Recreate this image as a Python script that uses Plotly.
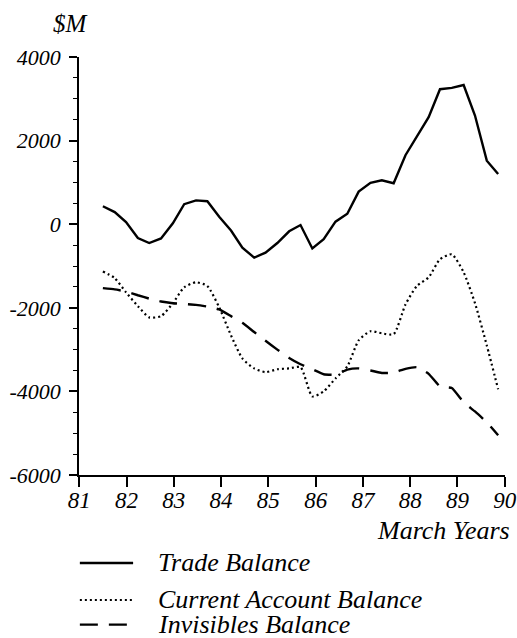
import plotly.graph_objects as go

# quarterly points, in decimal March years
years = [81.50, 81.75, 81.99, 82.24, 82.48, 82.73, 82.98, 83.22, 83.47, 83.71,
         83.96, 84.21, 84.45, 84.70, 84.94, 85.19, 85.44, 85.68, 85.93, 86.17,
         86.42, 86.67, 86.91, 87.16, 87.40, 87.65, 87.90, 88.14, 88.39, 88.63,
         88.88, 89.13, 89.37, 89.62, 89.86]

trade = [430, 290, 50, -330, -450, -340, 20, 480, 570, 550,
         180, -150, -560, -800, -680, -450, -170, -20, -580, -360,
         60, 250, 780, 990, 1050, 980, 1650, 2080, 2560, 3230,
         3260, 3330, 2600, 1520, 1200]

current = [-1130, -1290, -1630, -1960, -2230, -2200, -1890, -1510, -1390, -1480,
           -1990, -2660, -3210, -3450, -3540, -3470, -3450, -3420, -4120, -4000,
           -3690, -3400, -2780, -2560, -2610, -2630, -1920, -1480, -1270, -840,
           -720, -1150, -1890, -2900, -3950]

invisibles = [-1530, -1560, -1610, -1700, -1780, -1850, -1890, -1910, -1930, -1970,
              -2040, -2200, -2360, -2580, -2790, -3000, -3200, -3350, -3470, -3590,
              -3600, -3480, -3450, -3500, -3560, -3550, -3460, -3420, -3580, -3880,
              -3920, -4260, -4480, -4740, -5050]

x_ticks = [81, 82, 83, 84, 85, 86, 87, 88, 89, 90]
y_ticks = [4000, 2000, 0, -2000, -4000, -6000]
y_labels = ["4000", "2000", "0", "-2000", "-4000", "-6000"]

series = [
    ("Trade Balance", trade, dict(color="black", width=2.4, dash="solid", shape="linear")),
    ("Current Account Balance", current, dict(color="black", width=2.2, dash="2px,3px",
                                              shape="spline", smoothing=0.6)),
    ("Invisibles Balance", invisibles, dict(color="black", width=2.4, dash="18px,11px",
                                            shape="spline", smoothing=0.4)),
]

serif = "Liberation Serif, Times New Roman, serif"

fig = go.Figure()
for name, vals, line in series:
    fig.add_trace(go.Scatter(x=years, y=vals, mode="lines", name=name,
                             line=line, showlegend=False))

fig.update_layout(
    width=517, height=638,
    margin=dict(l=79, r=12, t=57, b=163),
    paper_bgcolor="white", plot_bgcolor="white",
    font=dict(family=serif, color="black", style="italic"),
    xaxis=dict(range=[80.995, 90.005], tickvals=x_ticks, ticks="outside", ticklen=10,
               tickwidth=1.5, tickcolor="black", showline=True, linecolor="black",
               linewidth=1.6, showgrid=False, zeroline=False, automargin=False,
               ticklabeloverflow="allow", ticklabelstandoff=-6,
               tickfont=dict(size=23, family=serif, style="italic")),
    yaxis=dict(range=[-6000, 4000], tickvals=y_ticks, ticktext=y_labels,
               ticks="outside", ticklen=8, tickwidth=1.5, tickcolor="black",
               showline=True, linecolor="black", linewidth=1.6, showgrid=False,
               zeroline=False, ticklabelstandoff=4, automargin=False,
               ticklabeloverflow="allow",
               tickfont=dict(size=22, family=serif, style="italic"),
               minor=dict(dtick=500, ticks="outside", ticklen=4, tickcolor="black",
                          tickwidth=1.2)),
)

fig.add_annotation(text="$M", xref="paper", yref="paper", x=-0.019, y=1.081,
                   xanchor="center", yanchor="middle", showarrow=False,
                   font=dict(size=25, family=serif, style="italic"))
fig.add_annotation(text="March Years", xref="paper", yref="paper", x=1.016, y=-0.132,
                   xanchor="right", yanchor="middle", showarrow=False,
                   font=dict(size=26, family=serif, style="italic"))

# legend drawn by hand to match the long line samples
rows = [-0.2105, -0.299, -0.358]
for (name, _, line), ry in zip(series, rows):
    fig.add_shape(type="line", xref="paper", yref="paper", x0=0.002, x1=0.127,
                  y0=ry, y1=ry, line=dict(color="black", width=line["width"],
                                          dash=line["dash"]))
    fig.add_annotation(text=name, xref="paper", yref="paper", x=0.181, y=ry,
                       xanchor="left", yanchor="middle", showarrow=False,
                       font=dict(size=26, family=serif, style="italic"))

# drop the page's default body margin so the figure fills the window
fig.write_html("out.html", config={"displayModeBar": False},
               post_script="document.body.style.margin='0';"
                           "document.body.style.overflow='hidden';")
